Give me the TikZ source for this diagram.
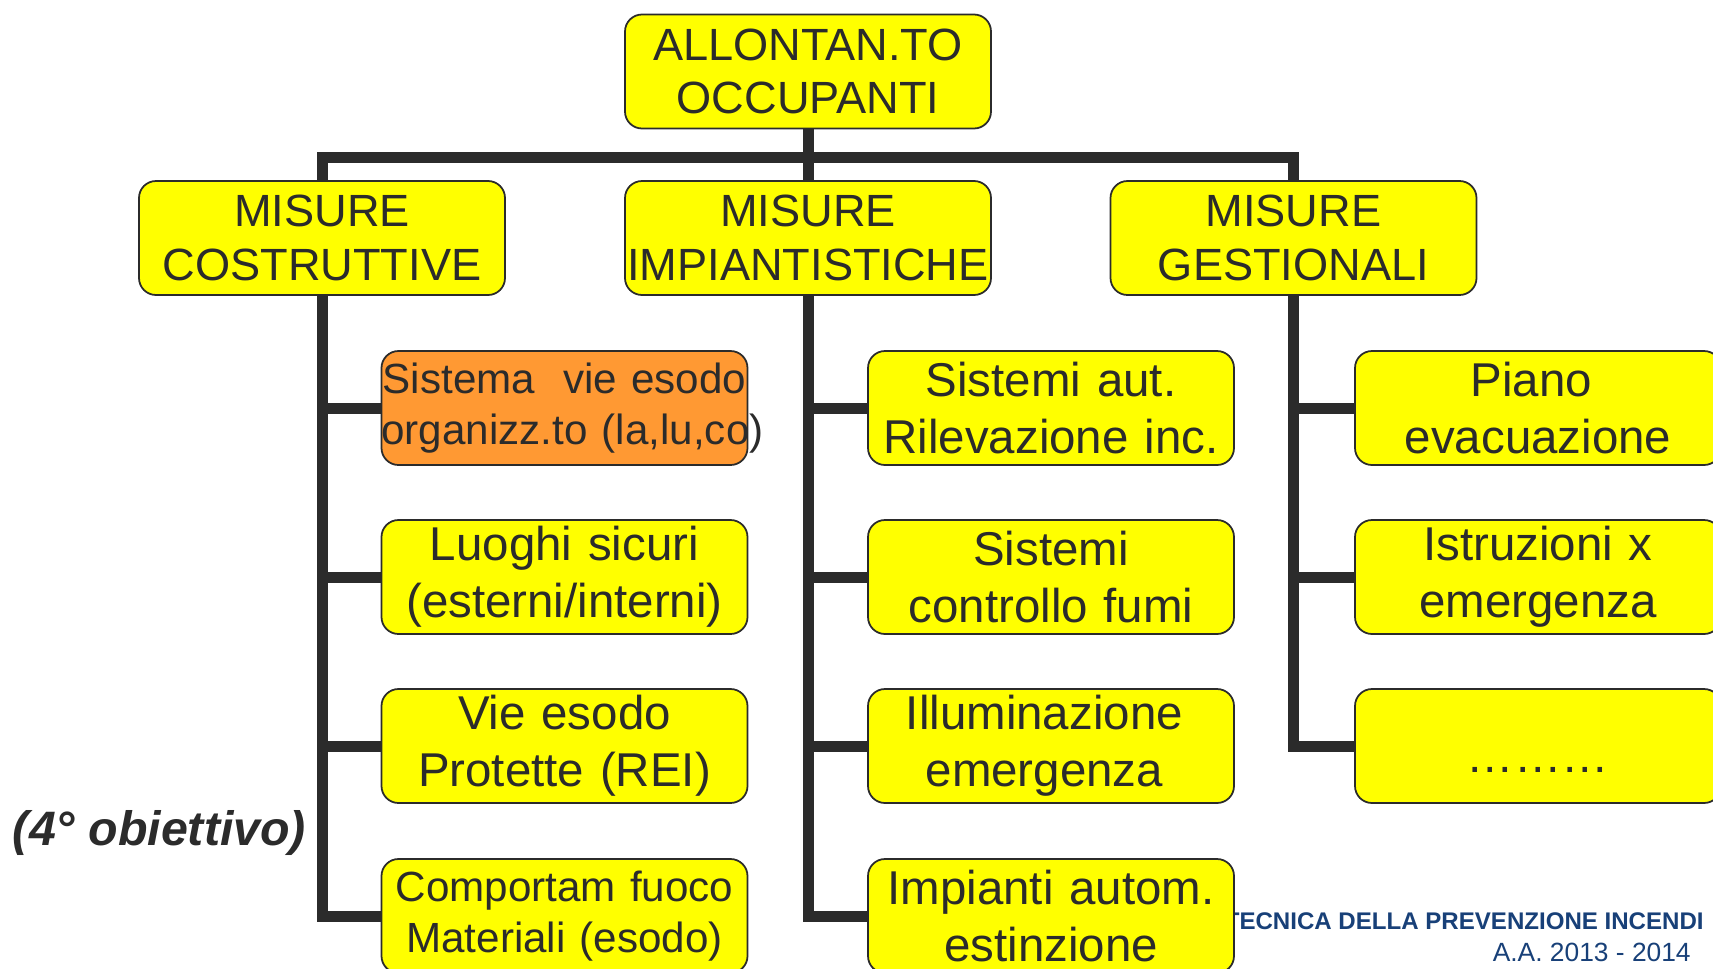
\documentclass[tikz,border=0pt]{standalone}
\usepackage{fontspec}
\setmainfont{Liberation Sans}
\usepackage{xcolor}
\usepackage{tikz}
\usetikzlibrary{positioning, calc}

\definecolor{giallo}{RGB}{255,255,0}
\definecolor{arancio}{RGB}{255,153,51}
\definecolor{scuro}{RGB}{43,43,43}
\definecolor{blu}{RGB}{24,64,120}

\tikzset{
  scatola/.style={draw=scuro, line width=1pt, fill=giallo, rounded corners=0.34cm,
    minimum height=2.28cm, text width=7.32cm, inner sep=0pt, align=center,
    text=scuro, font=\fontsize{25.7}{30.5}\selectfont},
  voce/.style={scatola, font=\fontsize{27}{32.5}\selectfont},
  vocep/.style={scatola, font=\fontsize{24}{29}\selectfont},
  ramo/.style={line width=0.22cm, draw=scuro, line join=miter},
}

\begin{document}
\begin{tikzpicture}
  \useasboundingbox (0,0) rectangle (34.26,-19.36);
  \clip (0,0) rectangle (34.26,-19.36);
  % piè di pagina (sotto le caselle)
  \node[blu, font=\bfseries\fontsize{13.7}{16}\selectfont, anchor=east, inner sep=0pt] (corso) at (34.08,-18.42) {TECNICA DELLA PREVENZIONE INCENDI};
  \node[blu, font=\fontsize{15}{18}\selectfont, anchor=east, inner sep=0pt] (anno) at (33.82,-19.04) {A.A. 2013 - 2014};
  % radice
  \node[scatola] (occ) at (16.16,-1.43) {ALLONTAN.TO\\OCCUPANTI};
  % tre famiglie di misure
  \node[scatola] (costr) at (6.44,-4.76) {MISURE\\COSTRUTTIVE};
  \node[scatola] (impi) at (16.16,-4.76) {MISURE\\IMPIANTISTICHE};
  \node[scatola] (gest) at (25.87,-4.76) {MISURE\\GESTIONALI};
  % colonna costruttive
  \node[vocep, fill=arancio] (c1) at (11.29,-8.16) {\mbox{Sistema\ \ vie esodo}\\\mbox{organizz.to (la,lu,co)}};
  \node[voce] (c2) at (11.29,-11.54) {Luoghi sicuri\\(esterni/interni)};
  \node[voce] (c3) at (11.29,-14.92) {Vie esodo\\Protette (REI)};
  \node[vocep] (c4) at (11.29,-18.32) {Comportam fuoco\\Materiali (esodo)};
  % colonna impiantistiche
  \node[voce] (i1) at (21.02,-8.16) {Sistemi aut.\\Rilevazione inc.};
  \node[voce] (i2) at (21.02,-11.54) {Sistemi\\controllo fumi};
  \node[voce] (i3) at (21.02,-14.92) {Illuminazione\kern0.28em\\emergenza\kern0.28em};
  \node[voce] (i4) at (21.02,-18.32) {Impianti autom.\\estinzione};
  % colonna gestionali
  \node[voce] (g1) at (30.76,-8.16) {Piano\kern0.28em\\evacuazione};
  \node[voce] (g2) at (30.76,-11.54) {Istruzioni x\\emergenza};
  \node[voce] (g3) at (30.76,-14.92) {\raisebox{-0.55em}[0pt][0pt]{………}};
  % nota a sinistra
  \node[text=scuro, font=\bfseries\itshape\fontsize{27.5}{32}\selectfont] (obiettivo) at (3.19,-16.66) {(4° obiettivo)};
  % collegamenti
  \draw[ramo] (occ) -- (impi);
  \draw[ramo] (costr.north) -- ++(0,0.46) -| (gest.north);
  \foreach \v in {c1,c2,c3}
    \draw[ramo] (\v.west) -- (\v.west -| costr.south);
  \draw[ramo] (costr.south) |- (c4.west);
  \foreach \v in {i1,i2,i3}
    \draw[ramo] (\v.west) -- (\v.west -| impi.south);
  \draw[ramo] (impi.south) |- (i4.west);
  \foreach \v in {g1,g2}
    \draw[ramo] (\v.west) -- (\v.west -| gest.south);
  \draw[ramo] (gest.south) |- (g3.west);
\end{tikzpicture}
\end{document}
